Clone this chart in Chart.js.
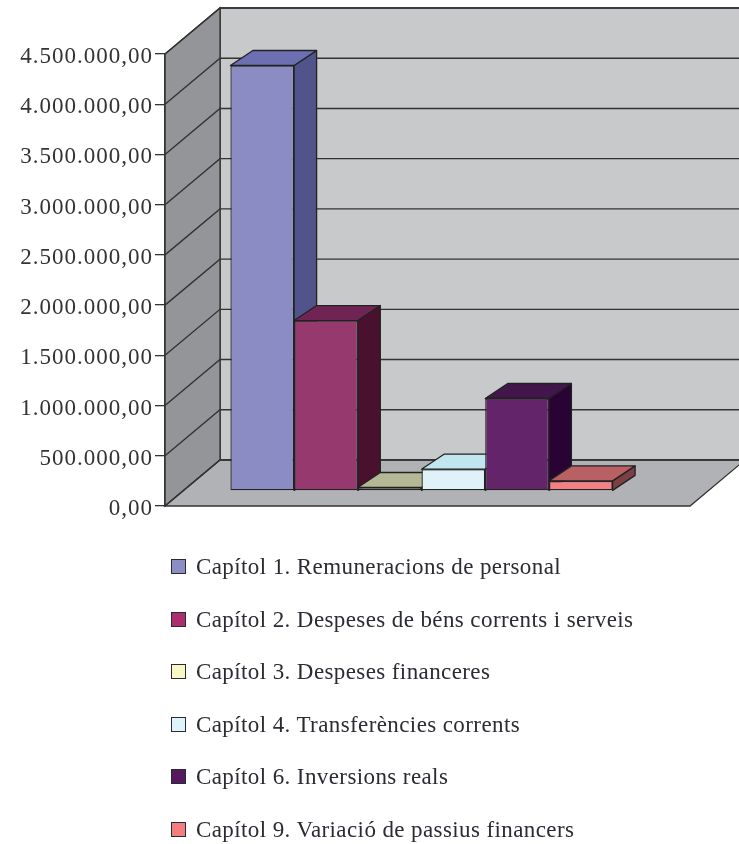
<!DOCTYPE html>
<html>
<head>
<meta charset="utf-8">
<script src="https://cdn.jsdelivr.net/npm/chart.js@4"></script>
<style>
  html, body { margin: 0; padding: 0; background: #fff; }
  #wrap { position: relative; width: 739px; height: 844px; overflow: hidden; }
  #legend { position: absolute; left: 171px; top: 541px; margin: 0; padding: 0; list-style: none;
    font: 23px "Liberation Serif", serif; letter-spacing: 0.4px; color: #2b2b33; }
  #legend li { height: 52.5px; line-height: 52.5px; white-space: nowrap; position: relative; padding-left: 25px; }
  #legend i { position: absolute; left: 0; top: 18px; width: 13px; height: 13px; border: 1.5px solid #2a2a35; }
</style>
</head>
<body>
<div id="wrap">
  <canvas id="myChart" width="739" height="844"></canvas>
  <ul id="legend"></ul>
</div>
<script>
const categories = ['Capítol'];
const seriesNames = [
  'Capítol 1. Remuneracions de personal',
  'Capítol 2. Despeses de béns corrents i serveis',
  'Capítol 3. Despeses financeres',
  'Capítol 4. Transferències corrents',
  'Capítol 6. Inversions reals',
  'Capítol 9. Variació de passius financers'
];
const seriesValues = [4236000, 1697000, 35000, 217000, 921000, 101000];
const tickLabels = ['0,00', '500.000,00', '1.000.000,00', '1.500.000,00', '2.000.000,00',
  '2.500.000,00', '3.000.000,00', '3.500.000,00', '4.000.000,00', '4.500.000,00'];

const frontColors = ['#8a8cc3', '#95396e', '#f7f5c9', '#e0f2f9', '#63246a', '#f58084'];
const topColors = ['#6c70b2', '#6f2454', '#b4b894', '#c2e6ef', '#42154b', '#b96064'];
const sideColors = ['#50548a', '#4a112f', '#80825f', '#8fb0b8', '#280333', '#7c4044'];
const legendColors = ['#8b8ec4', '#ab2f6f', '#f9f7c5', '#dff3fa', '#55195f', '#f27f80'];

const lineColor = '#333';
const wallDx = 55, wallDy = 46;   // depth of the box
const barDx = 22.5, barDy = 15;   // depth of a bar
const shiftX = -6, shiftY = -15;  // bars stand inside the box, not on its front edge

function poly(ctx, pts, fill, stroke, lw) {
  ctx.beginPath();
  pts.forEach((p, i) => i ? ctx.lineTo(p[0], p[1]) : ctx.moveTo(p[0], p[1]));
  ctx.closePath();
  if (fill) { ctx.fillStyle = fill; ctx.fill(); }
  if (stroke) { ctx.strokeStyle = stroke; ctx.lineWidth = lw; ctx.stroke(); }
}

const box3d = {
  id: 'box3d',
  beforeDraw(chart) {
    const ctx = chart.ctx, a = chart.chartArea, y = chart.scales.y;
    const l = a.left, r = a.right, t = a.top, b = a.bottom;
    ctx.letterSpacing = '1px'; // tick labels are set wide in the original
    ctx.save();
    // back wall, left wall, floor
    poly(ctx, [[l + wallDx, t - wallDy], [r + wallDx, t - wallDy], [r + wallDx, b - wallDy], [l + wallDx, b - wallDy]], '#c8c9cb', lineColor, 1.6);
    poly(ctx, [[l, t], [l + wallDx, t - wallDy], [l + wallDx, b - wallDy], [l, b]], '#949598', lineColor, 1.3);
    poly(ctx, [[l, b], [l + wallDx, b - wallDy], [r + wallDx, b - wallDy], [r, b]], '#b1b2b5', lineColor, 1.3);
    // grid lines run along the left wall and across the back wall
    y.ticks.forEach(tk => {
      const py = y.getPixelForValue(tk.value);
      ctx.beginPath();
      ctx.moveTo(l, py);
      ctx.lineTo(l + wallDx, py - wallDy);
      ctx.lineTo(r + wallDx, py - wallDy);
      ctx.strokeStyle = lineColor;
      ctx.lineWidth = 1.4;
      ctx.stroke();
    });
    ctx.restore();
  },
  beforeDatasetsDraw(chart) {
    const ctx = chart.ctx;
    ctx.save();
    ctx.translate(shiftX, shiftY);
    ctx.lineJoin = 'round';
    chart.data.datasets.forEach((ds, i) => {
      const el = chart.getDatasetMeta(i).data[0];
      const x0 = el.x - el.width / 2, x1 = el.x + el.width / 2;
      poly(ctx, [[x1, el.y], [x1 + barDx, el.y - barDy], [x1 + barDx, el.base - barDy], [x1, el.base]], sideColors[i], '#222', 1.3);
      poly(ctx, [[x0, el.y], [x0 + barDx, el.y - barDy], [x1 + barDx, el.y - barDy], [x1, el.y]], topColors[i], '#222', 1.3);
    });
    ctx.restore();
  },
  beforeDatasetDraw(chart) {
    chart.ctx.save();
    chart.ctx.translate(shiftX, shiftY);
  },
  afterDatasetDraw(chart) {
    chart.ctx.restore();
  }
};

new Chart(document.getElementById('myChart').getContext('2d'), {
  type: 'bar',
  data: {
    labels: categories,
    datasets: seriesNames.map((name, i) => ({
      label: name,
      data: [seriesValues[i]],
      backgroundColor: frontColors[i],
      borderColor: '#222',
      borderWidth: 1.3,
      borderSkipped: false,
      clip: false
    }))
  },
  options: {
    responsive: false,
    animation: false,
    categoryPercentage: 0.728,
    barPercentage: 1,
    layout: { padding: { top: 54, bottom: 338, right: 49, left: 0 } },
    scales: {
      x: { display: false },
      y: {
        min: 0,
        max: 4500000,
        afterFit(s) { s.width = 165; },
        border: { color: lineColor, width: 1.3 },
        grid: { drawOnChartArea: false, tickLength: 10, color: lineColor, lineWidth: 1.3 },
        ticks: {
          stepSize: 500000,
          padding: 2,
          labelOffset: 3,
          color: '#333',
          font: { family: '"Liberation Serif", serif', size: 23 },
          callback: (v, i) => tickLabels[i]
        }
      }
    },
    plugins: { legend: { display: false }, tooltip: { enabled: false } }
  },
  plugins: [box3d]
});

// vertical legend under the chart
const legend = document.getElementById('legend');
seriesNames.forEach((name, i) => {
  const li = document.createElement('li');
  const sw = document.createElement('i');
  sw.style.background = legendColors[i];
  li.appendChild(sw);
  li.appendChild(document.createTextNode(name));
  legend.appendChild(li);
});
</script>
</body>
</html>
